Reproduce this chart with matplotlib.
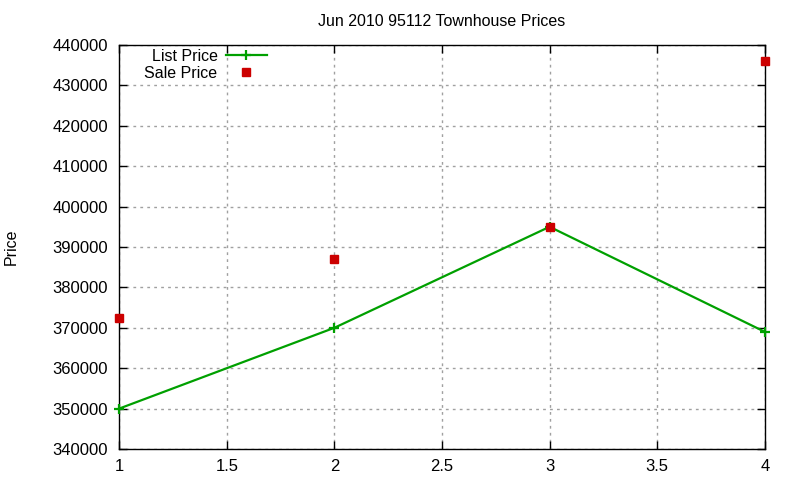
import matplotlib
matplotlib.use("Agg")
import matplotlib.pyplot as plt

plt.rcParams['font.family'] = ['Liberation Sans', 'DejaVu Sans']

x = [1, 2, 3, 4]
list_price = [350000, 370000, 395000, 369000]
sale_price = [372500, 387000, 395000, 436000]

fig = plt.figure(figsize=(8, 4.8), dpi=100)
ax = fig.add_axes([0.149, 0.0646, 0.807, 0.8417])

ax.plot(x, list_price, color='#00a000', lw=1.6, marker='+', ms=7, mew=1.6,
        label='List Price', clip_on=False, zorder=3)
ax.plot(x, sale_price, ls='none', marker='s', ms=6, color='#cc0000',
        label='Sale Price', clip_on=False, zorder=4)

ax.set_xlim(1, 4)
ax.set_ylim(340000, 440000)
ax.set_xticks([1, 1.5, 2, 2.5, 3, 3.5, 4])
ax.set_xticklabels(['1', '1.5', '2', '2.5', '3', '3.5', '4'])
ax.set_yticks(range(340000, 440001, 10000))
ax.tick_params(direction='in', top=True, right=True, labelsize=12, length=6, width=1)
ax.tick_params(axis='x', pad=7)
ax.tick_params(axis='y', pad=8)
ax.grid(True, color='#a0a0a0', ls=(0, (2, 3)), lw=1)
for s in ax.spines.values():
    s.set_linewidth(1)

ax.set_title('Jun 2010 95112 Townhouse Prices', fontsize=11.5, pad=14)
ax.set_ylabel('Price', fontsize=11.5)
ax.yaxis.set_label_coords(-0.156, 0.5)

leg = ax.legend(loc='upper right', bbox_to_anchor=(0.229, 0.99), markerfirst=False,
                frameon=False, fontsize=11.5, handlelength=2.6, handletextpad=0.5,
                labelspacing=0.1, borderaxespad=0, borderpad=0)
for t in leg.get_texts():
    t.set_ha('right')

fig.savefig('out.png', dpi=100)
